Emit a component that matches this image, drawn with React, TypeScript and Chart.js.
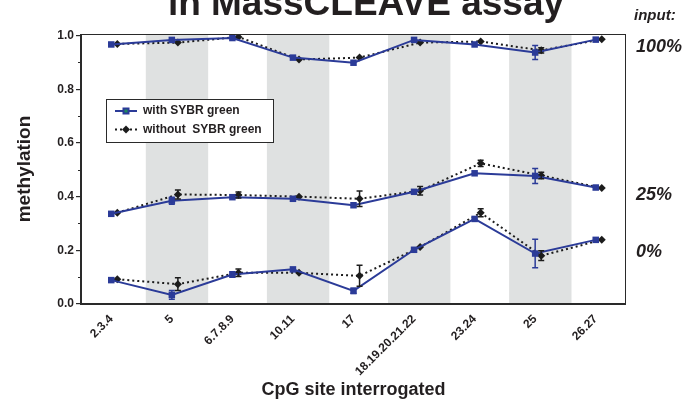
import React, { useEffect, useRef } from 'react';
import { Chart, registerables } from 'chart.js';

Chart.register(...registerables);

const categories = ['2.3.4', '5', '6.7.8.9', '10.11', '17', '18.19.20.21.22', '23.24', '25', '26.27'];

const withSybr100 = [0.967, 0.984, 0.991, 0.918, 0.899, 0.984, 0.967, 0.937, 0.985];
const withSybr100Err = [0, 0, 0, 0, 0, 0, 0, 0.026, 0];
const withoutSybr100 = [0.969, 0.974, 0.995, 0.911, 0.918, 0.974, 0.978, 0.945, 0.986];
const withoutSybr100Err = [0, 0, 0, 0, 0, 0, 0, 0.01, 0];

const withSybr25 = [0.336, 0.385, 0.398, 0.392, 0.368, 0.418, 0.487, 0.477, 0.434];
const withSybr25Err = [0, 0.013, 0, 0, 0, 0, 0, 0.028, 0];
const withoutSybr25 = [0.34, 0.408, 0.406, 0.4, 0.392, 0.422, 0.524, 0.479, 0.432];
const withoutSybr25Err = [0, 0.017, 0.011, 0, 0.029, 0.016, 0.012, 0.012, 0];

const withSybr0 = [0.089, 0.034, 0.11, 0.129, 0.049, 0.202, 0.317, 0.188, 0.239];
const withSybr0Err = [0, 0.016, 0.01, 0, 0.01, 0, 0, 0.053, 0];
const withoutSybr0 = [0.092, 0.074, 0.116, 0.116, 0.105, 0.212, 0.34, 0.18, 0.239];
const withoutSybr0Err = [0, 0.024, 0.014, 0, 0.039, 0, 0.015, 0.018, 0];

const yTicks = [0, 0.2, 0.4, 0.6, 0.8, 1.0];
const yMinorTicks = [0.1, 0.3, 0.5, 0.7, 0.9];
const seriesNames = ['with SYBR green', 'without  SYBR green'];
const inputLabels = ['100%', '25%', '0%'];
const titleText = 'in MassCLEAVE assay';
const inputTitle = 'input:';

const BLUE = '#2b3b98';
const BLACK = '#1c1c1c';
const TEXT = '#231f20';
const FONT = '"Liberation Sans", Arial, Helvetica, sans-serif';

const BLUE_OFFSET = 0;
const BLACK_OFFSET = 0.1;

function toPoints(values: number[], off: number) {
  return values.map((v, i) => ({ x: i + off, y: v }));
}

const decorPlugin = {
  id: 'decor',
  beforeDatasetsDraw(chart: any) {
    const { ctx, chartArea: a, scales } = chart;
    const x = scales.x;
    ctx.save();
    ctx.fillStyle = '#dfe1e1';
    for (let i = 1; i < categories.length; i += 2) {
      const l = x.getPixelForValue(i - 0.43);
      const r = x.getPixelForValue(i + 0.6);
      ctx.fillRect(l, a.top, r - l, a.bottom - a.top);
    }
    ctx.restore();
  },
  afterDatasetsDraw(chart: any) {
    const { ctx, scales } = chart;
    const x = scales.x;
    const y = scales.y;
    ctx.save();
    chart.data.datasets.forEach((ds: any) => {
      const errs: number[] = ds.errs || [];
      ctx.strokeStyle = ds.borderColor;
      ctx.lineWidth = 1.5;
      ctx.setLineDash([]);
      ds.data.forEach((p: any, i: number) => {
        const e = errs[i];
        if (!e) return;
        const px = x.getPixelForValue(p.x);
        const y1 = y.getPixelForValue(p.y + e);
        const y2 = y.getPixelForValue(p.y - e);
        ctx.beginPath();
        ctx.moveTo(px, y1);
        ctx.lineTo(px, y2);
        ctx.moveTo(px - 3, y1);
        ctx.lineTo(px + 3, y1);
        ctx.moveTo(px - 3, y2);
        ctx.lineTo(px + 3, y2);
        ctx.stroke();
      });
    });
    ctx.restore();
  },
  afterDraw(chart: any) {
    const { ctx, chartArea: a, scales } = chart;
    const y = scales.y;
    ctx.save();
    // frame
    ctx.strokeStyle = '#2a2a2a';
    ctx.lineWidth = 1;
    ctx.setLineDash([]);
    ctx.strokeRect(a.left + 0.5, a.top + 0.5, a.right - a.left - 1, a.bottom - a.top - 1);
    ctx.lineWidth = 2;
    ctx.beginPath();
    ctx.moveTo(a.left, a.top);
    ctx.lineTo(a.left, a.bottom);
    ctx.lineTo(a.right, a.bottom);
    ctx.stroke();
    // minor ticks
    ctx.lineWidth = 1.2;
    ctx.beginPath();
    yMinorTicks.forEach((v) => {
      const py = Math.round(y.getPixelForValue(v)) + 0.5;
      ctx.moveTo(a.left - 3, py);
      ctx.lineTo(a.left, py);
    });
    ctx.stroke();

    // legend
    const lx = 106, ly = 99, lw = 167, lh = 43;
    ctx.fillStyle = '#ffffff';
    ctx.fillRect(lx, ly, lw, lh);
    ctx.strokeStyle = '#2a2a2a';
    ctx.lineWidth = 1;
    ctx.strokeRect(lx + 0.5, ly + 0.5, lw, lh);
    const r1 = 111, r2 = 129.5;
    ctx.strokeStyle = BLUE;
    ctx.lineWidth = 2;
    ctx.beginPath();
    ctx.moveTo(115, r1);
    ctx.lineTo(137, r1);
    ctx.stroke();
    ctx.fillStyle = BLUE;
    ctx.fillRect(122.5, r1 - 3.5, 7, 7);
    ctx.fillStyle = '#1f8a5c';
    ctx.fillRect(124.5, r1 - 1.5, 3, 3);
    ctx.strokeStyle = BLACK;
    ctx.setLineDash([2, 3]);
    ctx.beginPath();
    ctx.moveTo(115, r2);
    ctx.lineTo(137, r2);
    ctx.stroke();
    ctx.setLineDash([]);
    ctx.fillStyle = BLACK;
    ctx.beginPath();
    ctx.moveTo(126, r2 - 4);
    ctx.lineTo(130, r2);
    ctx.lineTo(126, r2 + 4);
    ctx.lineTo(122, r2);
    ctx.closePath();
    ctx.fill();
    ctx.fillStyle = TEXT;
    ctx.font = `bold 12px ${FONT}`;
    ctx.textAlign = 'left';
    ctx.textBaseline = 'middle';
    ctx.fillText(seriesNames[0], 143, r1);
    ctx.fillText(seriesNames[1], 143, r2);

    // title (partially cut at top)
    ctx.font = `bold 37px ${FONT}`;
    ctx.textAlign = 'center';
    ctx.textBaseline = 'alphabetic';
    ctx.fillText(titleText, 366, 15);

    // input labels on right
    ctx.textAlign = 'left';
    ctx.font = `italic bold 15px ${FONT}`;
    ctx.fillText(inputTitle, 634, 20);
    ctx.font = `italic bold 18px ${FONT}`;
    ctx.fillText(inputLabels[0], 636, 52);
    ctx.fillText(inputLabels[1], 636, 200);
    ctx.fillText(inputLabels[2], 636, 257);
    ctx.restore();
  },
};

export default function App() {
  const ref = useRef<HTMLCanvasElement | null>(null);
  useEffect(() => {
    if (!ref.current) return;
    const mk = (label: string, values: number[], errs: number[], blue: boolean) => ({
      label,
      data: toPoints(values, blue ? BLUE_OFFSET : BLACK_OFFSET),
      errs,
      borderColor: blue ? BLUE : BLACK,
      backgroundColor: blue ? BLUE : BLACK,
      borderWidth: 2,
      borderDash: blue ? [] : [2, 3],
      pointStyle: blue ? 'rect' : 'rectRot',
      pointRadius: blue ? 4.6 : 4,
      pointBorderWidth: 0,
      tension: 0,
      fill: false,
    });
    const chart = new Chart(ref.current, {
      type: 'line',
      data: {
        datasets: [
          mk(seriesNames[0], withSybr100, withSybr100Err, true),
          mk(seriesNames[0], withSybr25, withSybr25Err, true),
          mk(seriesNames[0], withSybr0, withSybr0Err, true),
          mk(seriesNames[1], withoutSybr100, withoutSybr100Err, false),
          mk(seriesNames[1], withoutSybr25, withoutSybr25Err, false),
          mk(seriesNames[1], withoutSybr0, withoutSybr0Err, false),
        ] as any,
      },
      options: {
        animation: false,
        responsive: false,
        devicePixelRatio: 1,
        layout: { padding: { top: 34, right: 62, bottom: 0, left: 0 } },
        plugins: {
          legend: { display: false },
          tooltip: { enabled: false },
          title: { display: false },
        },
        scales: {
          x: {
            type: 'linear',
            min: -0.5,
            max: 8.5,
            afterBuildTicks: (s: any) => {
              s.ticks = categories.map((_, i) => ({ value: i }));
            },
            afterFit: (s: any) => {
              s.height = 103;
            },
            grid: { display: false, drawTicks: false },
            border: { display: false },
            ticks: {
              autoSkip: false,
              maxRotation: 45,
              minRotation: 45,
              padding: 8,
              color: TEXT,
              font: { family: FONT, size: 12, weight: 'bold' },
              callback: (v: any) => categories[Math.round(v)] ?? '',
            },
            title: {
              display: true,
              text: 'CpG site interrogated',
              color: TEXT,
              font: { family: FONT, size: 18, weight: 'bold' },
              padding: { top: 0, bottom: 6 },
            },
          },
          y: {
            type: 'linear',
            min: 0,
            max: 1.006,
            afterBuildTicks: (s: any) => {
              s.ticks = yTicks.map((v) => ({ value: v }));
            },
            afterFit: (s: any) => {
              s.width = 81;
            },
            grid: {
              display: true,
              drawOnChartArea: false,
              drawTicks: true,
              tickLength: 5,
              color: '#2a2a2a',
              lineWidth: 1.2,
            },
            border: { display: false },
            ticks: {
              padding: 2,
              color: TEXT,
              font: { family: FONT, size: 12, weight: 'bold' },
              callback: (v: any) => Number(v).toFixed(1),
            },
            title: {
              display: true,
              text: 'methylation',
              color: TEXT,
              font: { family: FONT, size: 19, weight: 'bold' },
              padding: { top: 13, bottom: 0 },
            },
          },
        },
      },
      plugins: [decorPlugin],
    } as any);
    return () => chart.destroy();
  }, []);
  return (
    <div style={{ position: 'absolute', left: 0, top: 0, width: 688, height: 407, background: '#fff' }}>
      <canvas ref={ref} width={688} height={407} style={{ display: 'block', width: 688, height: 407 }} />
    </div>
  );
}
